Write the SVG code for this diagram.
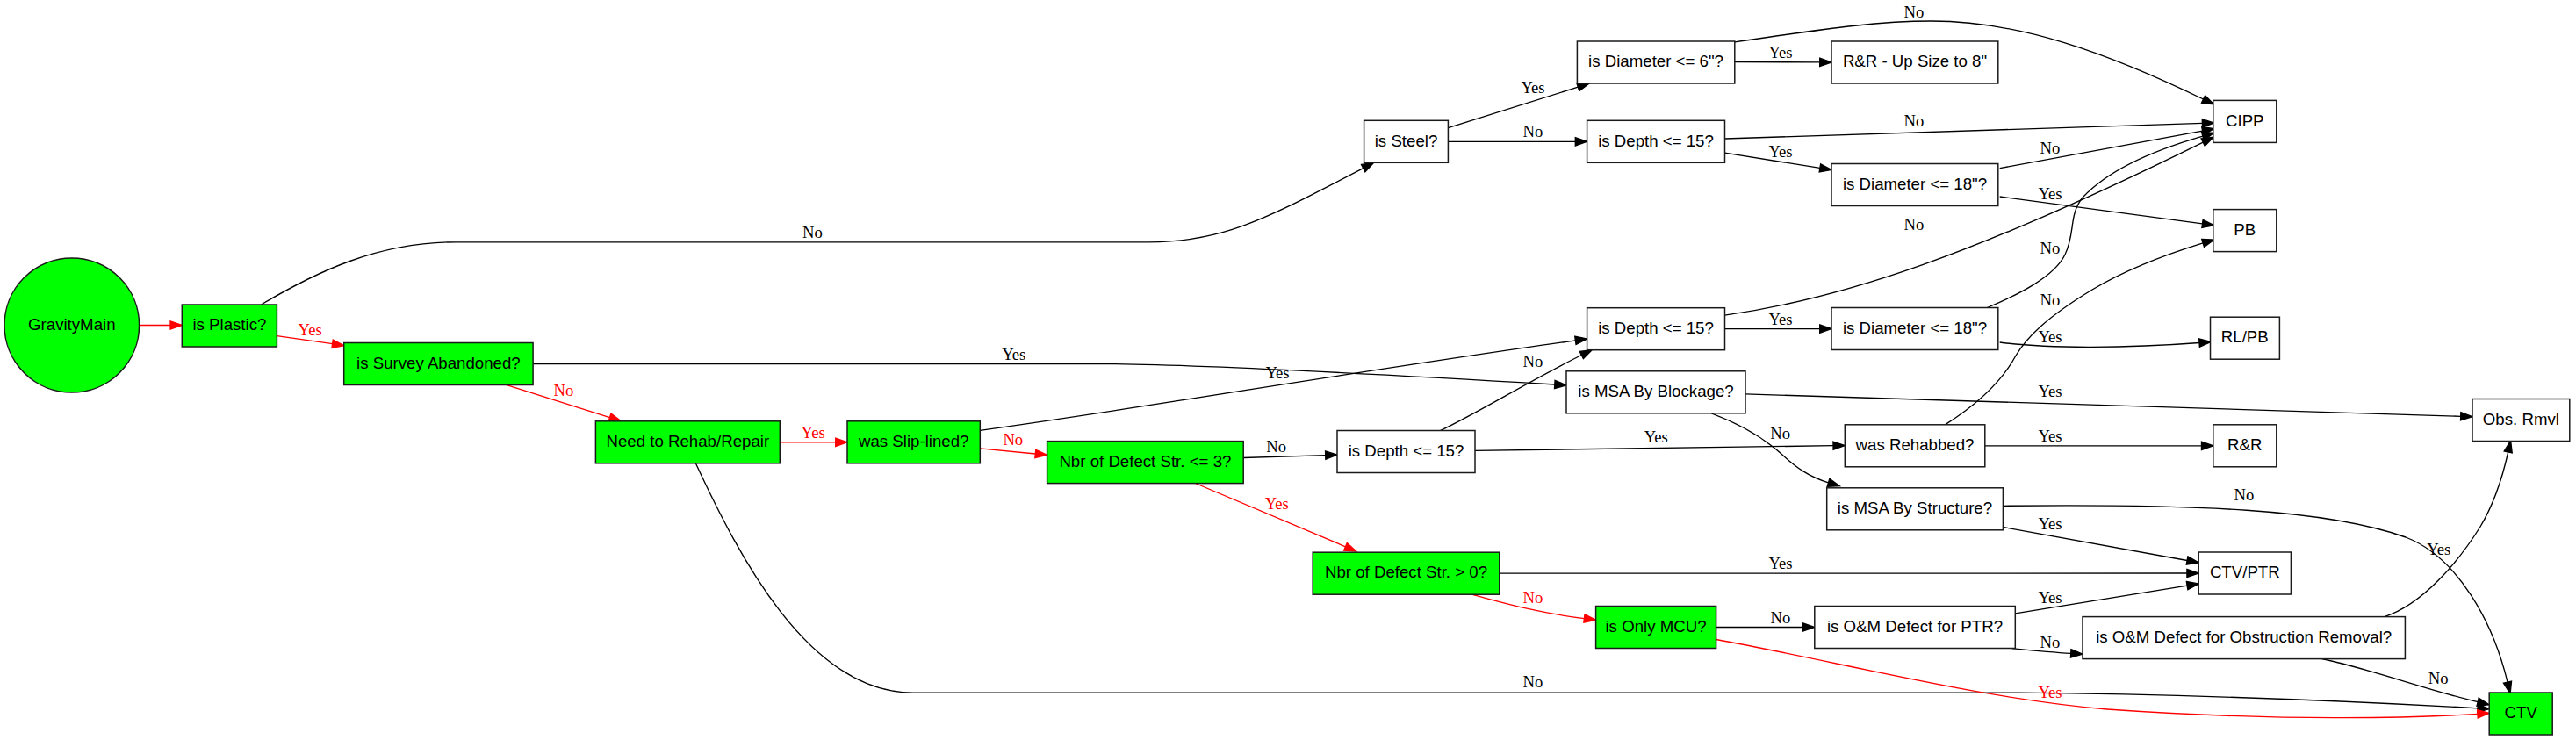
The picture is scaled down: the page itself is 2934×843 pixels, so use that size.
<svg xmlns="http://www.w3.org/2000/svg" width="2934" height="843" viewBox="0 0 2934 843">
<style>
.bg{fill:#ffffff}
.node rect,.node ellipse{fill:#ffffff;stroke:#1a1a1a;stroke-width:1.5}
.node.g rect,.node.g ellipse{fill:#00ff00}
.node text{font-family:"Liberation Sans",Arial,sans-serif;font-size:18.67px;fill:#000000;text-anchor:middle}
.e path{fill:none;stroke:#000000;stroke-width:1.33}
.e.r path{stroke:#ff0000}
.e text{font-family:"Liberation Serif","Times New Roman",serif;font-size:18.67px;fill:#000000;text-anchor:middle}
.e.r text{fill:#ff0000}
</style>
<defs>
<marker id="ab" markerUnits="userSpaceOnUse" markerWidth="16" markerHeight="12" refX="0" refY="4.67" orient="auto" overflow="visible">
<path d="M0,0 L13.33,4.67 L0,9.33 Z" fill="#000000" stroke="#000000" stroke-width="1.33"/>
</marker>
<marker id="ar" markerUnits="userSpaceOnUse" markerWidth="16" markerHeight="12" refX="0" refY="4.67" orient="auto" overflow="visible">
<path d="M0,0 L13.33,4.67 L0,9.33 Z" fill="#ff0000" stroke="#ff0000" stroke-width="1.33"/>
</marker>
</defs>
<rect class="bg" x="0" y="0" width="2934" height="843"/>

<g id="connectors">
<g class="e r"><path d="M158.5,370.5 L194,370.5" marker-end="url(#ar)"/></g>
<g class="e r"><path d="M315.4,382.6 L378.6,391.7" marker-end="url(#ar)"/><text x="353.2" y="382">Yes</text></g>
<g class="e"><path d="M297.8,346.8 C360,310 430,275.8 520,275.8 L1308,275.8 C1380,275.8 1430,255 1497,220.4 L1552.7,191.6" marker-end="url(#ab)"/><text x="925.5" y="271">No</text></g>
<g class="e"><path d="M607.1,414.5 L1250,414.5 C1350,414.5 1550,425 1770.8,438" marker-end="url(#ab)"/><text x="1154.8" y="410">Yes</text></g>
<g class="e r"><path d="M577.2,438.7 L694.5,475.6" marker-end="url(#ar)"/><text x="641.9" y="451">No</text></g>
<g class="e r"><path d="M888.3,503.8 L951.7,503.8" marker-end="url(#ar)"/><text x="926.2" y="499">Yes</text></g>
<g class="e"><path d="M792.5,528 C840,630 920,789.2 1040,789.2 L2300,789.2 C2500,791 2700,800 2822,806.8" marker-end="url(#ab)"/><text x="1746" y="783">No</text></g>
<g class="e r"><path d="M1116.3,510.8 L1179.3,517" marker-end="url(#ar)"/><text x="1153.8" y="507">No</text></g>
<g class="e"><path d="M1116.3,490.3 C1300,465 1550,422 1794.4,387.9" marker-end="url(#ab)"/><text x="1455" y="431">Yes</text></g>
<g class="e"><path d="M1416.2,521.5 L1509.7,518.6" marker-end="url(#ab)"/><text x="1453.6" y="515">No</text></g>
<g class="e r"><path d="M1361.4,550.5 L1532.4,622.8" marker-end="url(#ar)"/><text x="1454.3" y="580">Yes</text></g>
<g class="e"><path d="M1649.4,145.7 L1797.3,99.2" marker-end="url(#ab)"/><text x="1746" y="106">Yes</text></g>
<g class="e"><path d="M1649.4,161.3 L1794.3,161.3" marker-end="url(#ab)"/><text x="1746" y="155.5">No</text></g>
<g class="e"><path d="M1640.8,490.3 C1680,472 1740,435 1801.3,404.5" marker-end="url(#ab)"/><text x="1746" y="418">No</text></g>
<g class="e"><path d="M1680,513.4 L2088,507.7" marker-end="url(#ab)"/><text x="1886.3" y="504">Yes</text></g>
<g class="e"><path d="M1707.8,653.2 L2490.9,653" marker-end="url(#ab)"/><text x="2028" y="648">Yes</text></g>
<g class="e r"><path d="M1677.3,677.4 C1710,686 1750,698 1804.4,704.6" marker-end="url(#ar)"/><text x="1746" y="686.6">No</text></g>
<g class="e"><path d="M1975.8,70.6 L2072.7,70.9" marker-end="url(#ab)"/><text x="2028" y="66">Yes</text></g>
<g class="e"><path d="M1975.8,47.8 C2060,36 2130,24 2200,24 C2300,24 2400,60 2509.5,113" marker-end="url(#ab)"/><text x="2179.9" y="20">No</text></g>
<g class="e"><path d="M1964.5,158 L2508.4,140.4" marker-end="url(#ab)"/><text x="2179.9" y="143.6">No</text></g>
<g class="e"><path d="M1964.5,174.2 L2072.9,191.4" marker-end="url(#ab)"/><text x="2028" y="179">Yes</text></g>
<g class="e"><path d="M2277.7,191.7 L2508.6,149.1" marker-end="url(#ab)"/><text x="2335" y="175.3">No</text></g>
<g class="e"><path d="M2277.7,224 L2508.5,254.9" marker-end="url(#ab)"/><text x="2335" y="226.7">Yes</text></g>
<g class="e"><path d="M1964.5,359.1 C2100,340 2250,290 2509.2,162.1" marker-end="url(#ab)"/><text x="2179.9" y="262">No</text></g>
<g class="e"><path d="M1964.5,374.6 L2072.7,374.6" marker-end="url(#ab)"/><text x="2028" y="370">Yes</text></g>
<g class="e"><path d="M2263.3,350.5 C2300,335 2340,315 2352,290 C2364,265 2356,245 2372,225 C2400,195 2450,172 2508.9,155.1" marker-end="url(#ab)"/><text x="2335" y="288.7">No</text></g>
<g class="e"><path d="M2277.7,390 C2330,397 2420,397 2505,390.5" marker-end="url(#ab)"/><text x="2335" y="390">Yes</text></g>
<g class="e"><path d="M1988,448.9 L2802.7,474.3" marker-end="url(#ab)"/><text x="2335" y="452">Yes</text></g>
<g class="e"><path d="M1949.3,471 C1985,484 2010,500 2030,518 C2045,532 2060,543 2082.5,549.8" marker-end="url(#ab)"/><text x="2027.7" y="499.5">No</text></g>
<g class="e"><path d="M2260.8,507.8 L2507.5,507.8" marker-end="url(#ab)"/><text x="2335" y="502.8">Yes</text></g>
<g class="e"><path d="M2215.4,483.9 C2250,462 2280,435 2296,405 C2308,385 2330,362 2383,330 C2420,308 2460,292 2509.1,276.9" marker-end="url(#ab)"/><text x="2335" y="348.3">No</text></g>
<g class="e"><path d="M2281.4,576.3 C2500,574 2650,580 2740,612 C2800,635 2840,710 2856,777.2" marker-end="url(#ab)"/><text x="2556" y="570">No</text></g>
<g class="e"><path d="M2281.4,600.5 L2491.1,638.5" marker-end="url(#ab)"/><text x="2335" y="602.8">Yes</text></g>
<g class="e"><path d="M1954.6,714.5 L2053.5,714.5" marker-end="url(#ab)"/><text x="2028" y="710.3">No</text></g>
<g class="e r"><path d="M1954.6,728.5 C2100,755 2250,795 2400,808 C2600,822 2750,818 2821.9,813.3" marker-end="url(#ar)"/><text x="2335" y="795">Yes</text></g>
<g class="e"><path d="M2295.3,698.9 L2491.1,667.1" marker-end="url(#ab)"/><text x="2335" y="687">Yes</text></g>
<g class="e"><path d="M2291.7,738.7 C2315,741 2335,743 2358.7,744.4" marker-end="url(#ab)"/><text x="2335" y="737.7">No</text></g>
<g class="e"><path d="M2715.8,702.7 C2760,688 2800,640 2825,600 C2840,575 2850,545 2856.7,515" marker-end="url(#ab)"/><text x="2777.8" y="632">Yes</text></g>
<g class="e"><path d="M2644.5,750.5 C2700,762 2760,785 2822.1,799.7" marker-end="url(#ab)"/><text x="2777.2" y="779">No</text></g>
</g>

<g id="n_gravitymain" class="node g"><ellipse cx="81.8" cy="370.5" rx="76.8" ry="76.6"/><text x="81.8" y="375.7">GravityMain</text></g>
<g id="n_plastic" class="node g"><rect x="207.3" y="347" width="108.1" height="48"/><text x="261.4" y="376.2">is Plastic?</text></g>
<g id="n_survey" class="node g"><rect x="391.7" y="390.5" width="215.4" height="48"/><text x="499.4" y="419.7">is Survey Abandoned?</text></g>
<g id="n_need" class="node g"><rect x="678.4" y="479.8" width="209.9" height="48"/><text x="783.3" y="509">Need to Rehab/Repair</text></g>
<g id="n_slip" class="node g"><rect x="965" y="479.8" width="151.3" height="48"/><text x="1040.7" y="509">was Slip-lined?</text></g>
<g id="n_nbr3" class="node g"><rect x="1192.6" y="502.6" width="223.6" height="48"/><text x="1304.4" y="531.8">Nbr of Defect Str. &lt;= 3?</text></g>
<g id="n_steel" class="node"><rect x="1553.6" y="137.3" width="95.8" height="48"/><text x="1601.5" y="166.5">is Steel?</text></g>
<g id="n_depth3" class="node"><rect x="1523" y="490.5" width="157" height="48"/><text x="1601.5" y="519.7">is Depth &lt;= 15?</text></g>
<g id="n_nbr0" class="node g"><rect x="1495.2" y="629.2" width="212.6" height="48"/><text x="1601.5" y="658.4">Nbr of Defect Str. &gt; 0?</text></g>
<g id="n_diam6" class="node"><rect x="1796.4" y="47" width="179.4" height="48"/><text x="1886" y="76.2">is Diameter &lt;= 6"?</text></g>
<g id="n_depth1" class="node"><rect x="1807.6" y="137.3" width="156.9" height="48"/><text x="1886" y="166.5">is Depth &lt;= 15?</text></g>
<g id="n_depth2" class="node"><rect x="1807.6" y="350.7" width="156.9" height="48"/><text x="1886" y="379.9">is Depth &lt;= 15?</text></g>
<g id="n_msab" class="node"><rect x="1784" y="422.8" width="204" height="48"/><text x="1886" y="452">is MSA By Blockage?</text></g>
<g id="n_mcu" class="node g"><rect x="1817.6" y="690.5" width="137" height="48"/><text x="1886" y="719.7">is Only MCU?</text></g>
<g id="n_rrup" class="node"><rect x="2086" y="47" width="189.8" height="48"/><text x="2181" y="76.2">R&amp;R - Up Size to 8"</text></g>
<g id="n_diam18a" class="node"><rect x="2086" y="186.5" width="189.8" height="48"/><text x="2181" y="215.7">is Diameter &lt;= 18"?</text></g>
<g id="n_diam18b" class="node"><rect x="2086" y="350.5" width="189.8" height="48"/><text x="2181" y="379.7">is Diameter &lt;= 18"?</text></g>
<g id="n_rehab" class="node"><rect x="2101.3" y="483.8" width="159.5" height="48"/><text x="2181" y="513">was Rehabbed?</text></g>
<g id="n_msas" class="node"><rect x="2080.7" y="555.8" width="200.7" height="48"/><text x="2181" y="585">is MSA By Structure?</text></g>
<g id="n_omptr" class="node"><rect x="2066.8" y="690.5" width="228.5" height="48"/><text x="2181" y="719.7">is O&amp;M Defect for PTR?</text></g>
<g id="n_cipp" class="node"><rect x="2520.8" y="114.4" width="72" height="48"/><text x="2556.8" y="143.6">CIPP</text></g>
<g id="n_pb" class="node"><rect x="2520.8" y="238.6" width="72" height="48"/><text x="2556.8" y="267.8">PB</text></g>
<g id="n_rlpb" class="node"><rect x="2517.5" y="361.2" width="78.9" height="48"/><text x="2556.8" y="390.4">RL/PB</text></g>
<g id="n_rr" class="node"><rect x="2520.8" y="483.8" width="72" height="48"/><text x="2556.8" y="513">R&amp;R</text></g>
<g id="n_ctvptr" class="node"><rect x="2504.2" y="629" width="105.2" height="48"/><text x="2556.8" y="658.2">CTV/PTR</text></g>
<g id="n_omobs" class="node"><rect x="2372" y="702.6" width="367.4" height="48"/><text x="2555.7" y="731.8">is O&amp;M Defect for Obstruction Removal?</text></g>
<g id="n_obs" class="node"><rect x="2816" y="454.5" width="110.8" height="48"/><text x="2871.4" y="483.7">Obs. Rmvl</text></g>
<g id="n_ctv" class="node g"><rect x="2835.2" y="789" width="72" height="48"/><text x="2871.2" y="818.2">CTV</text></g>
</svg>
